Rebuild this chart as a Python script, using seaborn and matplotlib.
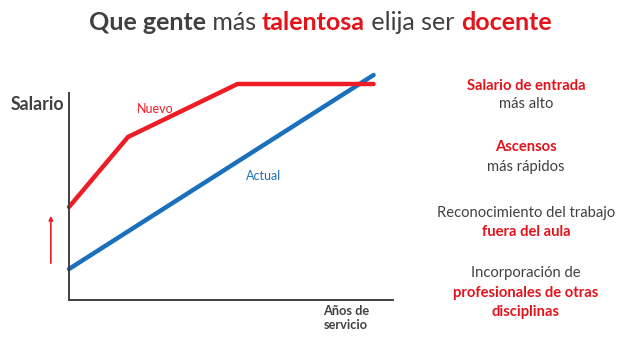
import matplotlib
matplotlib.use("Agg")
import matplotlib.pyplot as plt
import seaborn as sns
import pandas as pd

# Data (arbitrary units)
years_nuevo = [0.0, 1.82, 5.2, 9.4]
salario_nuevo = [4.65, 8.15, 10.8, 10.8]
years_actual = [0.0, 9.4]
salario_actual = [1.55, 11.25]

title_parts = [("Que gente", "bold", "#404040"), (" más ", "normal", "#404040"),
               ("talentosa", "bold", "#E3131B"), (" elija ser ", "normal", "#404040"),
               ("docente", "bold", "#E3131B")]
right_lines = [("Salario de entrada", "bold", "#E3131B", 86),
               ("más alto", "normal", "#404040", 104),
               ("Ascensos", "bold", "#E3131B", 147),
               ("más rápidos", "normal", "#404040", 167),
               ("Reconocimiento del trabajo", "normal", "#404040", 213),
               ("fuera del aula", "bold", "#E3131B", 232),
               ("Incorporación de", "normal", "#404040", 273),
               ("profesionales de otras", "bold", "#E3131B", 293),
               ("disciplinas", "bold", "#E3131B", 312)]

RED = "#EE1C25"
BLUE = "#1B70BE"
GRAY = "#404040"

sns.set_theme(style="white")
plt.rcParams['font.family'] = ['Lato', 'DejaVu Sans']

W, H = 640, 364
fig = plt.figure(figsize=(6.4, 3.64), dpi=100)
ax = fig.add_axes([69 / W, (H - 300) / H, 324 / W, 230 / H])

df_n = pd.DataFrame({"x": years_nuevo, "y": salario_nuevo})
df_a = pd.DataFrame({"x": years_actual, "y": salario_actual})
sns.lineplot(data=df_a, x="x", y="y", ax=ax, color=BLUE, lw=3.2, clip_on=False)
sns.lineplot(data=df_n, x="x", y="y", ax=ax, color=RED, lw=3.2, clip_on=False)

ax.set_xlim(0, 10)
ax.set_ylim(0, 11.5)
ax.set_xticks([])
ax.set_yticks([])
ax.set_xlabel("")
ax.set_ylabel("")
for s in ["top", "right"]:
    ax.spines[s].set_visible(False)
for s in ["left", "bottom"]:
    ax.spines[s].set_color(GRAY)
    ax.spines[s].set_linewidth(1.4)
ax.spines["left"].set_bounds(0, 10.35)

ax.text(2.65, 9.55, "Nuevo", color=RED, fontsize=9, ha="center", va="center")
ax.text(6.0, 6.2, "Actual", color=BLUE, fontsize=9, ha="center", va="center")
ax.annotate("", xy=(-0.56, 4.35), xytext=(-0.56, 1.7),
            arrowprops=dict(arrowstyle="-|>", color=RED, lw=1.2, mutation_scale=6),
            annotation_clip=False)

fig.text(37 / W, 1 - 104 / H, "Salario", fontsize=12.8, fontweight="bold",
         color=GRAY, ha="center", va="center")
fig.text(346 / W, 1 - 318 / H, "Años de\nservicio", fontsize=9.2, fontweight="bold",
         color=GRAY, ha="center", va="center", linespacing=1.2)

for txt, wt, col, yy in right_lines:
    fig.text(526 / W, 1 - yy / H, txt, fontsize=10.6, fontweight=wt, color=col,
             ha="center", va="center")

# Title composed of coloured pieces
fig.canvas.draw()
renderer = fig.canvas.get_renderer()
pieces = []
total = 0
for txt, wt, col in title_parts:
    t = fig.text(0, 1 - 22 / H, txt, fontsize=18, fontweight=wt, color=col,
                 va="center", ha="left")
    w = t.get_window_extent(renderer).width
    pieces.append((t, w))
    total += w
x0 = 320 - total / 2
for t, w in pieces:
    t.set_x(x0 / W)
    x0 += w

fig.savefig("out.png", dpi=100)
